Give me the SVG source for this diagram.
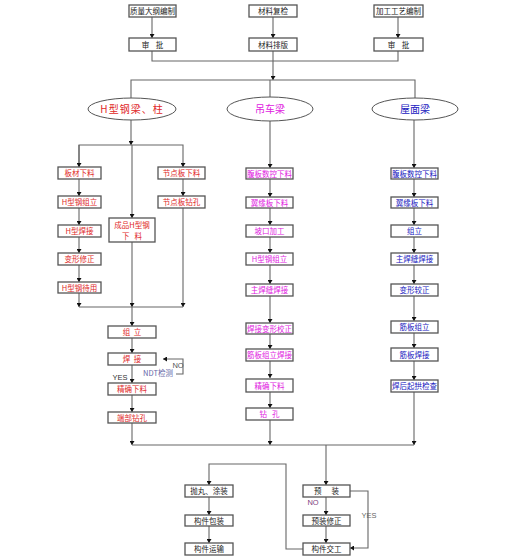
<svg xmlns="http://www.w3.org/2000/svg" width="522" height="560" viewBox="0 0 522 560">
<defs>
<marker id="arr" viewBox="0 0 8 10" refX="8" refY="5" markerWidth="4" markerHeight="5" orient="auto" markerUnits="userSpaceOnUse">
<path d="M0,0 L8,5 L0,10 Z" fill="#111"/>
</marker>
<style>
.b{fill:#fff;stroke:#555;stroke-width:1.3}
.e{fill:#fff;stroke:#555;stroke-width:1}
.t{font-family:"Noto Sans CJK SC","Liberation Sans",sans-serif;font-size:7.5px;text-anchor:middle}
.k{fill:#222}
.r{fill:#e02828}
.m{fill:#e020e0}
.u{fill:#2020c0}
.c path,.c polyline,.c line{fill:none;stroke:#666;stroke-width:1.1}
.a{marker-end:url(#arr)}
.big{font-size:10px}
.lab{font-family:"Liberation Sans",sans-serif;font-size:7.5px;text-anchor:middle}
</style>
</defs>
<rect width="522" height="560" fill="#fff"/>
<g class="c">
<line class="a" x1="152" y1="17" x2="152" y2="38"/>
<line class="a" x1="273" y1="17" x2="273" y2="38"/>
<line class="a" x1="398" y1="17" x2="398" y2="38"/>
<polyline points="152,51 152,61 398,61 398,51"/>
<line class="a" x1="273" y1="51" x2="273" y2="80"/>
<polyline points="131,98 131,80 415,80 415,98"/>
<line x1="270" y1="80" x2="270" y2="97"/>
<line class="a" x1="131" y1="120" x2="131" y2="145"/>
<polyline points="79,167 79,145 183,145 183,167" class="a"/>
<line class="a" x1="79" y1="145" x2="79" y2="167"/>
<line class="a" x1="132" y1="145" x2="132" y2="218"/>
<line class="a" x1="79" y1="179" x2="79" y2="196"/>
<line class="a" x1="79" y1="208" x2="79" y2="225"/>
<line class="a" x1="79" y1="237" x2="79" y2="253"/>
<line class="a" x1="79" y1="265" x2="79" y2="282"/>
<line class="a" x1="79" y1="293" x2="79" y2="307"/>
<line class="a" x1="183" y1="179" x2="183" y2="196"/>
<line class="a" x1="183" y1="208" x2="183" y2="307"/>
<line class="a" x1="132" y1="242" x2="132" y2="307"/>
<line x1="79" y1="307" x2="183" y2="307"/>
<line class="a" x1="132" y1="307" x2="132" y2="326"/>
<line class="a" x1="132" y1="338" x2="132" y2="353"/>
<line class="a" x1="132" y1="365" x2="132" y2="383"/>
<line class="a" x1="132" y1="395" x2="132" y2="412"/>
<line class="a" x1="132" y1="423" x2="132" y2="445"/>
<polyline class="a" points="176,374 183,374 183,359 163,359"/>
<line class="a" x1="270" y1="121" x2="270" y2="168"/>
<line class="a" x1="270" y1="179" x2="270" y2="197"/>
<line class="a" x1="270" y1="208" x2="270" y2="225"/>
<line class="a" x1="270" y1="237" x2="270" y2="253"/>
<line class="a" x1="270" y1="265" x2="270" y2="284"/>
<line class="a" x1="270" y1="296" x2="270" y2="323"/>
<line class="a" x1="270" y1="334" x2="270" y2="349"/>
<line class="a" x1="270" y1="361" x2="270" y2="378"/>
<line class="a" x1="270" y1="392" x2="270" y2="408"/>
<line class="a" x1="270" y1="420" x2="270" y2="445"/>
<line class="a" x1="414" y1="120" x2="414" y2="168"/>
<line class="a" x1="414" y1="179" x2="414" y2="197"/>
<line class="a" x1="414" y1="208" x2="414" y2="225"/>
<line class="a" x1="414" y1="237" x2="414" y2="253"/>
<line class="a" x1="414" y1="265" x2="414" y2="284"/>
<line class="a" x1="414" y1="296" x2="414" y2="321"/>
<line class="a" x1="414" y1="333" x2="414" y2="348"/>
<line class="a" x1="414" y1="361" x2="414" y2="380"/>
<line class="a" x1="414" y1="392" x2="414" y2="445"/>
<line x1="132" y1="445" x2="414" y2="445"/>
<line class="a" x1="326" y1="445" x2="326" y2="485"/>
<line class="a" x1="326" y1="497" x2="326" y2="515"/>
<line class="a" x1="326" y1="526" x2="326" y2="543"/>
<polyline class="a" points="350,491 368,491 368,548 350,548"/>
<polyline class="a" points="303,549 286,549 286,464 209,464 209,485"/>
<line class="a" x1="209" y1="497" x2="209" y2="515"/>
<line class="a" x1="209" y1="526" x2="209" y2="543"/>
</g>
<g id="n-zl"><rect class="b" x="129" y="5" width="47" height="12"/><text class="t k" x="152.5" y="14">质量大纲编制</text></g>
<g id="n-cf"><rect class="b" x="249" y="5" width="48" height="12"/><text class="t k" x="273" y="14">材料复检</text></g>
<g id="n-jg"><rect class="b" x="374" y="5" width="49" height="12"/><text class="t k" x="398.5" y="14">加工工艺编制</text></g>
<g id="n-sp1"><rect class="b" x="129" y="38" width="47" height="13"/><text class="t k" x="152.5" y="47.5" xml:space="preserve">审    批</text></g>
<g id="n-pb"><rect class="b" x="249" y="38" width="48" height="13"/><text class="t k" x="273" y="47.5">材料排版</text></g>
<g id="n-sp2"><rect class="b" x="374" y="38" width="49" height="13"/><text class="t k" x="398.5" y="47.5" xml:space="preserve">审    批</text></g>
<g id="n-h"><ellipse class="e" cx="132" cy="109" rx="44" ry="11"/><text class="t r big" x="132" y="112.5" letter-spacing="1">H型钢梁、柱</text></g>
<g id="n-dc"><ellipse class="e" cx="270" cy="109" rx="43" ry="12"/><text class="t m big" x="270" y="112.5">吊车梁</text></g>
<g id="n-wm"><ellipse class="e" cx="415" cy="109" rx="43" ry="11"/><text class="t u big" x="415" y="112.5">屋面梁</text></g>
<g id="n-l1"><rect class="b" x="58" y="167" width="43" height="12"/><text class="t r" x="79.5" y="176">板材下料</text></g>
<g id="n-l2"><rect class="b" x="58" y="196" width="43" height="12"/><text class="t r" x="79.5" y="205">H型钢组立</text></g>
<g id="n-l3"><rect class="b" x="58" y="225" width="43" height="12"/><text class="t r" x="79.5" y="234">H型焊接</text></g>
<g id="n-l4"><rect class="b" x="58" y="253" width="43" height="12"/><text class="t r" x="79.5" y="262">变形修正</text></g>
<g id="n-l5"><rect class="b" x="58" y="282" width="43" height="11"/><text class="t r" x="79.5" y="290.5">H型钢待用</text></g>
<g id="n-cp"><rect class="b" x="109" y="218" width="46" height="24"/><text class="t r" x="132" y="228">成品H型钢</text><text class="t r" x="132" y="238.5" xml:space="preserve">下   料</text></g>
<g id="n-jd1"><rect class="b" x="158" y="167" width="47" height="12"/><text class="t r" x="181.5" y="176">节点板下料</text></g>
<g id="n-jd2"><rect class="b" x="158" y="196" width="47" height="12"/><text class="t r" x="181.5" y="205">节点板钻孔</text></g>
<g id="n-zu"><rect class="b" x="108" y="326" width="48" height="12"/><text class="t r" x="132" y="335" xml:space="preserve">组  立</text></g>
<g id="n-hj"><rect class="b" x="108" y="353" width="48" height="12"/><text class="t r" x="132" y="362" xml:space="preserve">焊  接</text></g>
<g id="n-jq"><rect class="b" x="108" y="383" width="48" height="12"/><text class="t r" x="132" y="392">精确下料</text></g>
<g id="n-dz"><rect class="b" x="108" y="412" width="48" height="11"/><text class="t r" x="132" y="420.5">端部钻孔</text></g>
<g id="n-m1"><rect class="b" x="246" y="168" width="47" height="11"/><text class="t m" x="269.5" y="176.5">腹板数控下料</text></g>
<g id="n-m2"><rect class="b" x="246" y="197" width="47" height="11"/><text class="t m" x="269.5" y="205.5">翼缘板下料</text></g>
<g id="n-m3"><rect class="b" x="246" y="225" width="47" height="12"/><text class="t m" x="269.5" y="234">坡口加工</text></g>
<g id="n-m4"><rect class="b" x="246" y="253" width="47" height="12"/><text class="t m" x="269.5" y="262">H型钢组立</text></g>
<g id="n-m5"><rect class="b" x="246" y="284" width="47" height="12"/><text class="t m" x="269.5" y="293">主焊缝焊接</text></g>
<g id="n-m6"><rect class="b" x="246" y="323" width="47" height="11"/><text class="t m" x="269.5" y="331.5">焊接变形校正</text></g>
<g id="n-m7"><rect class="b" x="246" y="349" width="47" height="12"/><text class="t m" x="269.5" y="358">筋板组立焊接</text></g>
<g id="n-m8"><rect class="b" x="246" y="379" width="47" height="13"/><text class="t m" x="269.5" y="388.5">精确下料</text></g>
<g id="n-m9"><rect class="b" x="246" y="408" width="47" height="12"/><text class="t m" x="269.5" y="417" xml:space="preserve">钻   孔</text></g>
<g id="n-r1"><rect class="b" x="391" y="168" width="47" height="11"/><text class="t u" x="414.5" y="176.5">腹板数控下料</text></g>
<g id="n-r2"><rect class="b" x="391" y="197" width="47" height="11"/><text class="t u" x="414.5" y="205.5">翼缘板下料</text></g>
<g id="n-r3"><rect class="b" x="391" y="225" width="47" height="12"/><text class="t u" x="414.5" y="234">组立</text></g>
<g id="n-r4"><rect class="b" x="391" y="253" width="47" height="12"/><text class="t u" x="414.5" y="262">主焊缝焊接</text></g>
<g id="n-r5"><rect class="b" x="391" y="284" width="47" height="12"/><text class="t u" x="414.5" y="293">变形较正</text></g>
<g id="n-r6"><rect class="b" x="391" y="321" width="47" height="12"/><text class="t u" x="414.5" y="330">筋板组立</text></g>
<g id="n-r7"><rect class="b" x="391" y="348" width="47" height="13"/><text class="t u" x="414.5" y="357.5">筋板焊接</text></g>
<g id="n-r8"><rect class="b" x="391" y="380" width="47" height="12"/><text class="t u" x="414.5" y="389">焊后起拱检查</text></g>
<g id="n-yz"><rect class="b" x="303" y="485" width="47" height="12"/><text class="t k" x="326.5" y="494" xml:space="preserve">预      装</text></g>
<g id="n-yx"><rect class="b" x="303" y="515" width="47" height="11"/><text class="t k" x="326.5" y="523.5">预装修正</text></g>
<g id="n-jj"><rect class="b" x="303" y="543" width="47" height="12"/><text class="t k" x="326.5" y="552">构件交工</text></g>
<g id="n-pw"><rect class="b" x="185" y="485" width="48" height="12"/><text class="t k" x="209" y="494">抛丸、涂装</text></g>
<g id="n-bz"><rect class="b" x="185" y="515" width="48" height="11"/><text class="t k" x="209" y="523.5">构件包装</text></g>
<g id="n-ys"><rect class="b" x="185" y="543" width="48" height="12"/><text class="t k" x="209" y="552">构件运输</text></g>
<g id="labels">
<text class="lab" x="120" y="380" fill="#333">YES</text>
<text class="lab" x="178" y="368" fill="#555">NO</text>
<text class="t" x="158" y="376" fill="#6868a8">NDT检测</text>
<text class="lab" x="313" y="505" fill="#804080">NO</text>
<text class="lab" x="369" y="518" fill="#666">YES</text>
</g>
</svg>
